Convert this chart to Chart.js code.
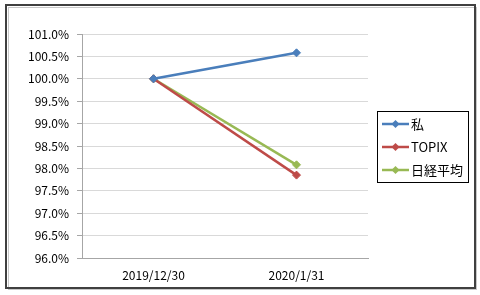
<!DOCTYPE html>
<html>
<head>
<meta charset="utf-8">
<script src="https://cdn.jsdelivr.net/npm/chart.js@4"></script>
<style>
  html, body { margin: 0; padding: 0; background: #fff; }
  #wrap { position: relative; width: 480px; height: 295px; }
</style>
</head>
<body>
<div id="wrap"><canvas id="chart" width="480" height="295"></canvas></div>
<script>
// data
const categories = ['2019/12/30', '2020/1/31'];
const seriesNames = ['私', 'TOPIX', '日経平均'];
const watashiValues = [1.0, 1.0058];
const topixValues = [1.0, 0.9785];
const nikkeiValues = [1.0, 0.9808];
const yTickMin = 0.96;
const yTickMax = 1.01;
const yTickStep = 0.005;

const colors = ['#4A7EBB', '#BE4B48', '#98B954'];
const FONT = '"Noto Sans CJK JP", "DejaVu Sans", sans-serif';

// outer frame + boxed legend like the original
const framePlugin = {
  id: 'frame',
  afterDraw(chart) {
    const ctx = chart.ctx;
    ctx.save();
    ctx.strokeStyle = '#c8c8c8';
    ctx.lineWidth = 1;
    ctx.strokeRect(8.5, 7.5, 468, 282);
    ctx.strokeStyle = '#404040';
    ctx.lineWidth = 2;
    ctx.strokeRect(6, 5, 469, 283);

    // legend
    ctx.strokeStyle = '#000';
    ctx.lineWidth = 1;
    ctx.strokeRect(377.5, 111.5, 91, 71);
    const rows = [124, 147, 170];
    chart.data.datasets.forEach((ds, i) => {
      const y = rows[i];
      ctx.strokeStyle = ds.borderColor;
      ctx.lineWidth = 2.5;
      ctx.beginPath();
      ctx.moveTo(382, y);
      ctx.lineTo(409, y);
      ctx.stroke();
      ctx.fillStyle = ds.borderColor;
      ctx.beginPath();
      ctx.moveTo(395.5, y - 4);
      ctx.lineTo(399.5, y);
      ctx.lineTo(395.5, y + 4);
      ctx.lineTo(391.5, y);
      ctx.closePath();
      ctx.fill();
      ctx.fillStyle = '#000';
      ctx.font = '13px ' + FONT;
      ctx.textBaseline = 'middle';
      ctx.textAlign = 'left';
      ctx.fillText(ds.label, 411, y);
    });
    ctx.restore();
  }
};

function makeSet(name, values, color) {
  return {
    label: name,
    data: values,
    borderColor: color,
    backgroundColor: color,
    borderWidth: 2.5,
    pointStyle: 'rectRot',
    pointRadius: 4,
    pointBorderWidth: 1,
    pointHoverRadius: 4,
    tension: 0
  };
}

new Chart(document.getElementById('chart'), {
  type: 'line',
  data: {
    labels: categories,
    datasets: [
      makeSet(seriesNames[0], watashiValues, colors[0]),
      makeSet(seriesNames[1], topixValues, colors[1]),
      makeSet(seriesNames[2], nikkeiValues, colors[2])
    ]
  },
  options: {
    responsive: false,
    animation: false,
    devicePixelRatio: 1,
    layout: { padding: { top: 34, right: 112, left: 0, bottom: 0 } },
    plugins: {
      legend: { display: false },
      tooltip: { enabled: false }
    },
    scales: {
      x: {
        offset: true,
        grid: { display: false, drawTicks: false },
        border: { display: true, color: '#a6a6a6', width: 1 },
        ticks: { color: '#000', font: { family: FONT, size: 12 }, padding: 10, maxRotation: 0 },
        afterFit(scale) { scale.height = 295 - 258; }
      },
      y: {
        min: yTickMin,
        max: yTickMax,
        grid: { color: '#d9d9d9', lineWidth: 1, tickLength: 5, tickColor: '#a6a6a6' },
        border: { display: true, color: '#a6a6a6', width: 1 },
        ticks: {
          stepSize: yTickStep,
          color: '#000',
          padding: 8,
          font: { family: FONT, size: 12 },
          callback: v => (v * 100).toFixed(1) + '%'
        },
        afterFit(scale) { scale.width = 82; }
      }
    }
  },
  plugins: [framePlugin]
});
</script>
</body>
</html>
